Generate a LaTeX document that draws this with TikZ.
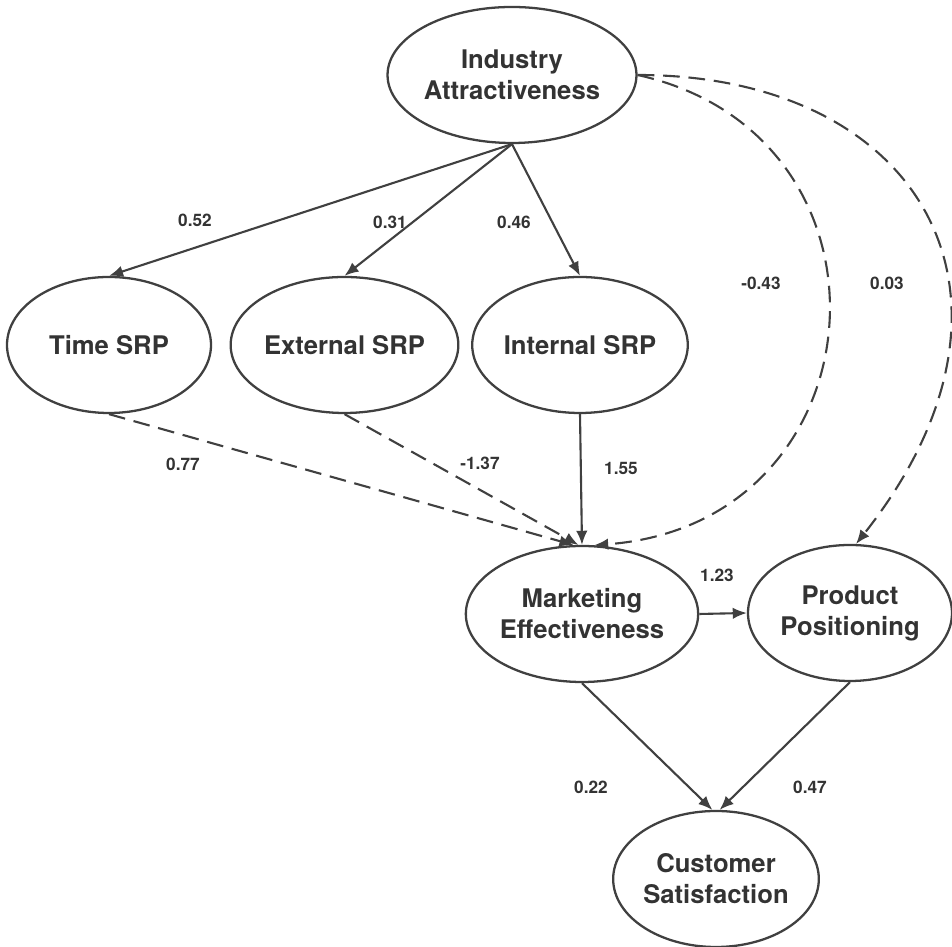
\documentclass[tikz,border=0pt]{standalone}
\usepackage{fontspec}
\setmainfont{TeX Gyre Heros}
\usetikzlibrary{shapes.geometric,arrows.meta}

\tikzset{
  latent/.style={ellipse, draw=black!75, line width=1.3pt,
    minimum width=4.08cm, minimum height=2.72cm, inner sep=0pt,
    align=center, text=black!80,
    font=\fontsize{14.6}{17.6}\selectfont\bfseries},
  effect/.style={draw=black!75, line width=1.2pt, -{Latex[length=8pt,width=6.5pt]}},
  weak/.style={effect, dash pattern=on 9.5pt off 5pt},
  coef/.style={text=black!80, font=\fontsize{9.8}{11}\selectfont\bfseries},
}

\begin{document}
\begin{tikzpicture}
\useasboundingbox (0, 0) rectangle (19.04, 18.94);

% constructs
\node[latent] (ind) at (10.24, 17.44) {Industry\\Attractiveness};
\node[latent] (time) at (2.18, 12.04) {Time SRP};
\node[latent] (ext) at (6.89, 12.04) {External SRP};
\node[latent] (int) at (11.60, 12.04) {Internal SRP};
\node[latent] (mkt) at (11.64, 6.66) {Marketing\\Effectiveness};
\node[latent] (prod) at (17.00, 6.68) {Product\\Positioning};
\node[latent] (cust) at (14.32, 1.36) {Customer\\Satisfaction};

% paths
\draw[effect] (ind.south) -- (time.north);
\draw[effect] (ind.south) -- (ext.north);
\draw[effect] (ind.south) -- (int.north);

\draw[weak] (time.south) -- (mkt.97);
\draw[weak] (ext.south) -- (mkt.93);
\draw[effect] (int.south) -- (mkt.north);

\draw[weak] (ind.east) .. controls +(5.5, -1.22) and +(5.8, 0.42) .. (mkt.80);
\draw[weak] (ind.east) .. controls +(5.72, 0) and +(3.88, 4.9) .. (prod.85);

\draw[effect] (mkt.east) -- (prod.west);
\draw[effect] (mkt.south) -- (cust.93);
\draw[effect] (prod.south) -- (cust.87);

% coefficients
\node[coef] (c-time) at (3.90, 14.54) {0.52};
\node[coef] (c-ext) at (7.80, 14.50) {0.31};
\node[coef] (c-int) at (10.28, 14.50) {0.46};
\node[coef] (c-ind-mkt) at (15.22, 13.28) {-0.43};
\node[coef] (c-ind-prod) at (17.74, 13.28) {0.03};
\node[coef] (c-time-mkt) at (3.66, 9.66) {0.77};
\node[coef] (c-ext-mkt) at (9.60, 9.68) {-1.37};
\node[coef] (c-int-mkt) at (12.42, 9.58) {1.55};
\node[coef] (c-mkt-prod) at (14.34, 7.44) {1.23};
\node[coef] (c-mkt-cust) at (11.82, 3.20) {0.22};
\node[coef] (c-prod-cust) at (16.20, 3.20) {0.47};
\end{tikzpicture}
\end{document}
